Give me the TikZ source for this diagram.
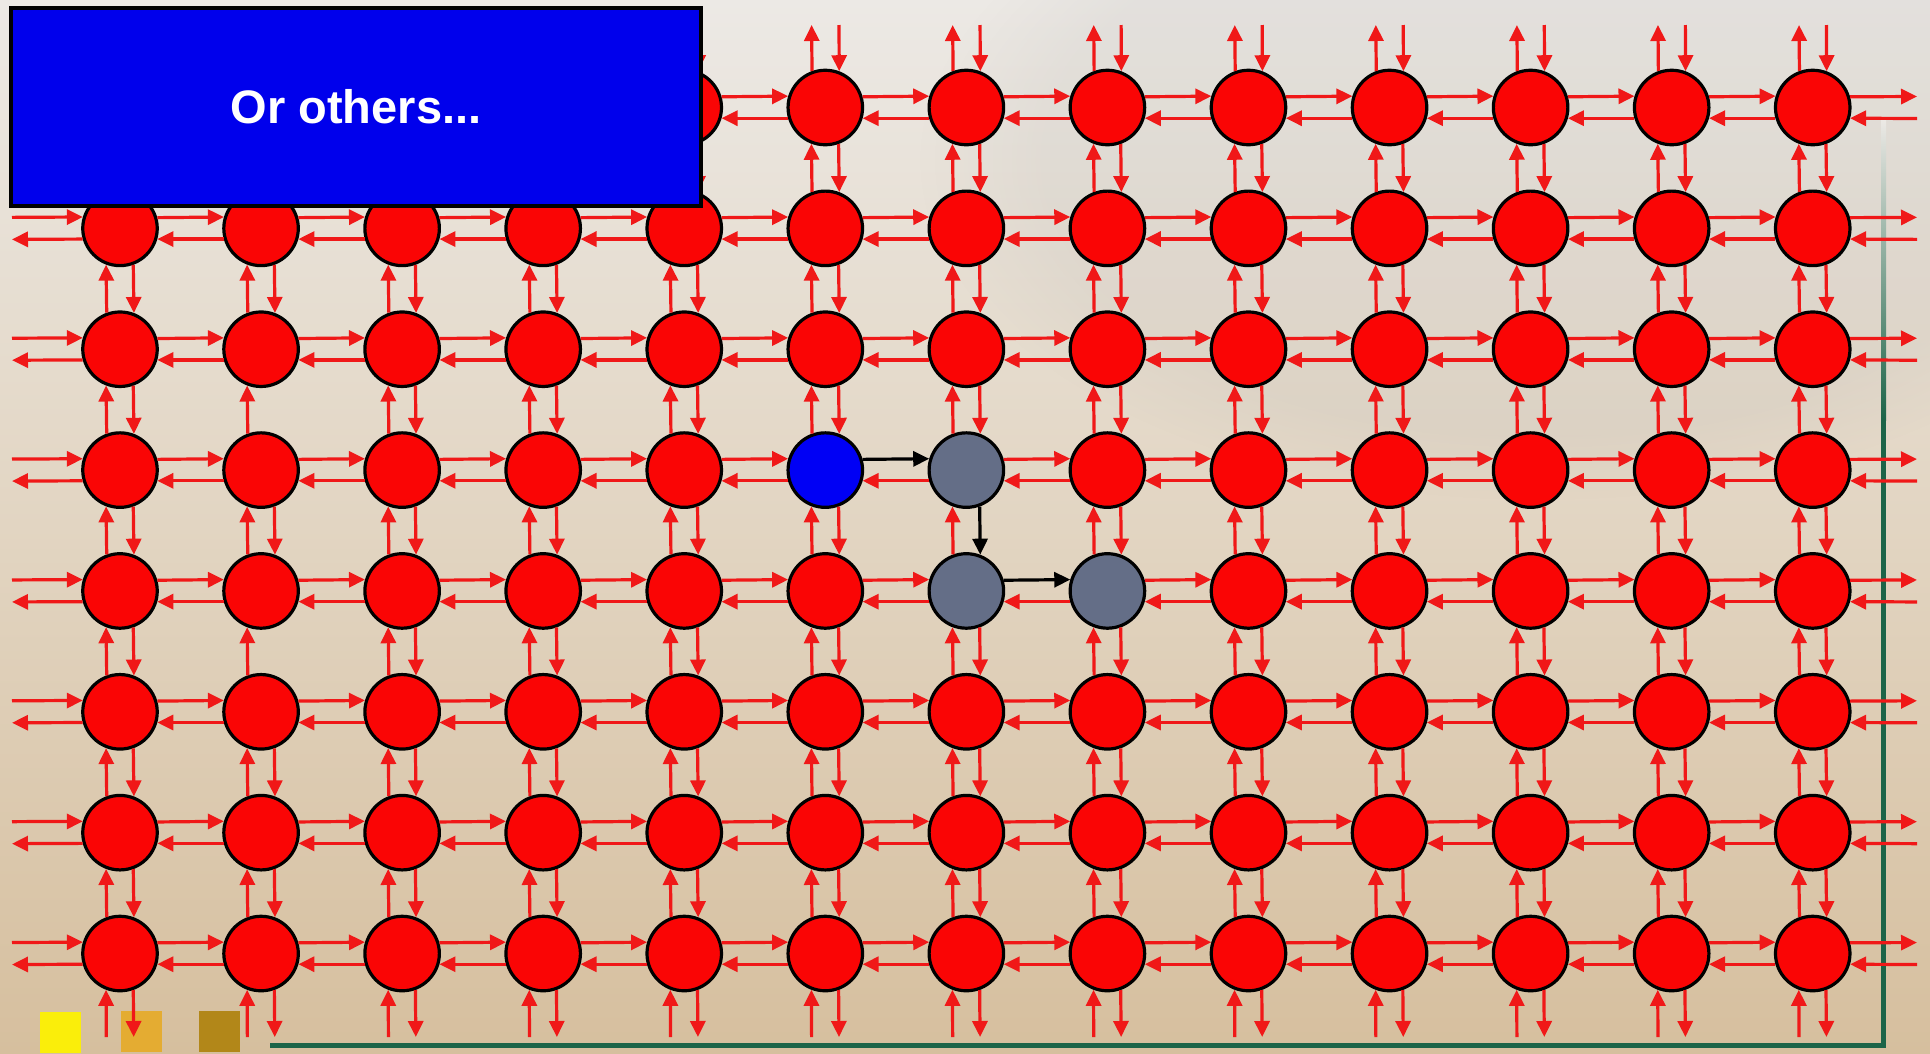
\documentclass[tikz,border=0pt]{standalone}
\usepackage{fontspec}
\setmainfont{Liberation Sans}
\usetikzlibrary{arrows.meta,fadings}
\definecolor{bgtop}{RGB}{236,233,229}
\definecolor{bgmid}{RGB}{226,213,194}
\definecolor{bgbot}{RGB}{214,191,158}
\definecolor{nodered}{RGB}{250,5,5}
\definecolor{linkred}{RGB}{240,24,24}
\definecolor{srcblue}{RGB}{0,0,245}
\definecolor{pathgrey}{RGB}{100,110,135}
\definecolor{boxblue}{RGB}{0,0,236}
\definecolor{framegreen}{RGB}{28,100,72}
\definecolor{sqyellow}{RGB}{250,238,10}
\definecolor{sqorange}{RGB}{228,172,50}
\definecolor{sqgold}{RGB}{178,135,25}
\begin{document}
\begin{tikzpicture}[x=1pt,y=-1pt,
  router/.style={circle,draw=black,line width=3.2pt,minimum size=74.5pt,inner sep=0pt},
  link/.style={draw=linkred,line width=3.2pt,-{Triangle[length=16pt,width=15pt]}},
  route/.style={draw=black,line width=3.2pt,-{Triangle[length=16pt,width=15pt]}},
  square/.style={inner sep=0pt,minimum size=41pt},
]
% background
\shade[top color=bgtop, bottom color=bgbot, middle color=bgmid] (0,0) rectangle (1930,1053);
\useasboundingbox (0,0) rectangle (1930,1053);
% faint watermark in the upper right
\fill[black!40,opacity=0.1,path fading=circle with fuzzy edge 20 percent] (1540,160) ellipse (620 and 340);
% bottom-left squares
\node[square,fill=sqyellow] (sq1) at (60,1032) {};
\node[square,fill=sqorange] (sq2) at (141,1031) {};
\node[square,fill=sqgold] (sq3) at (219,1031) {};
% frame lines
\shade[top color=bgtop, bottom color=framegreen] (1881,120) rectangle (1886,420);
\fill[framegreen] (1881,420) rectangle (1886,1048);
\fill[framegreen] (270,1043) rectangle (1886,1048);
% routers
\foreach \c in {0,...,12}{
  \foreach \r in {0,...,7}{
    \def\fc{nodered}
    \ifnum\c=5 \ifnum\r=3 \def\fc{srcblue}\fi\fi
    \ifnum\c=6 \ifnum\r=3 \def\fc{pathgrey}\fi\fi
    \ifnum\c=6 \ifnum\r=4 \def\fc{pathgrey}\fi\fi
    \ifnum\c=7 \ifnum\r=4 \def\fc{pathgrey}\fi\fi
    \node[router,fill=\fc] (n-\c-\r) at ({120+141.06*\c},{107.5+120.86*\r}) {};
  }
}
% horizontal links
\foreach \c [evaluate=\c as \cn using int(\c+1)] in {0,...,11}{
  \foreach \r in {0,...,7}{
    \def\st{link}
    \ifnum\c=5 \ifnum\r=3 \def\st{route}\fi\fi
    \ifnum\c=6 \ifnum\r=4 \def\st{route}\fi\fi
    \draw[\st] (n-\c-\r.16.5) -- (n-\cn-\r.163.5);
    \draw[link] (n-\cn-\r.196.5) -- (n-\c-\r.-16.5);
  }
}
% vertical links
\foreach \c in {0,...,12}{
  \foreach \r [evaluate=\r as \rn using int(\r+1)] in {0,...,6}{
    \draw[link] (n-\c-\rn.110.5) -- (n-\c-\r.249.5);
    \def\skip{0}
    \ifnum\c=1 \ifnum\r=2 \def\skip{1}\fi\fi
    \ifnum\c=1 \ifnum\r=4 \def\skip{1}\fi\fi
    \def\st{link}
    \ifnum\c=6 \ifnum\r=3 \def\st{route}\fi\fi
    \ifnum\skip=0 \draw[\st] (n-\c-\r.290.5) -- (n-\c-\rn.69.5);\fi
  }
}
% edge stubs left/right
\foreach \r in {0,...,7}{
  \pgfmathsetmacro\ry{107.5+120.86*\r}
  \coordinate (la-\r) at (12,\ry-11);
  \coordinate (lb-\r) at (12,\ry+11);
  \coordinate (ra-\r) at (1917,\ry-11);
  \coordinate (rb-\r) at (1917,\ry+11);
  \draw[link] (la-\r) -- (n-0-\r.163.5);
  \draw[link] (n-0-\r.196.5) -- (lb-\r);
  \draw[link] (n-12-\r.16.5) -- (ra-\r);
  \draw[link] (rb-\r) -- (n-12-\r.-16.5);
}
% edge stubs top/bottom
\foreach \c in {0,...,12}{
  \pgfmathsetmacro\cx{120+141.06*\c}
  \coordinate (ta-\c) at (\cx-13.7,25);
  \coordinate (tb-\c) at (\cx+13.7,25);
  \coordinate (ba-\c) at (\cx-13.7,1037);
  \coordinate (bb-\c) at (\cx+13.7,1037);
  \draw[link] (n-\c-0.110.5) -- (ta-\c);
  \draw[link] (tb-\c) -- (n-\c-0.69.5);
  \draw[link] (ba-\c) -- (n-\c-7.249.5);
  \draw[link] (n-\c-7.290.5) -- (bb-\c);
}
% caption box
\node[draw=black,line width=4pt,fill=boxblue,minimum width=690pt,minimum height=198pt,
      inner sep=0pt,text=white,font=\bfseries\fontsize{47}{47}\selectfont] (box) at (356,107) {Or others...};
\end{tikzpicture}
\end{document}
